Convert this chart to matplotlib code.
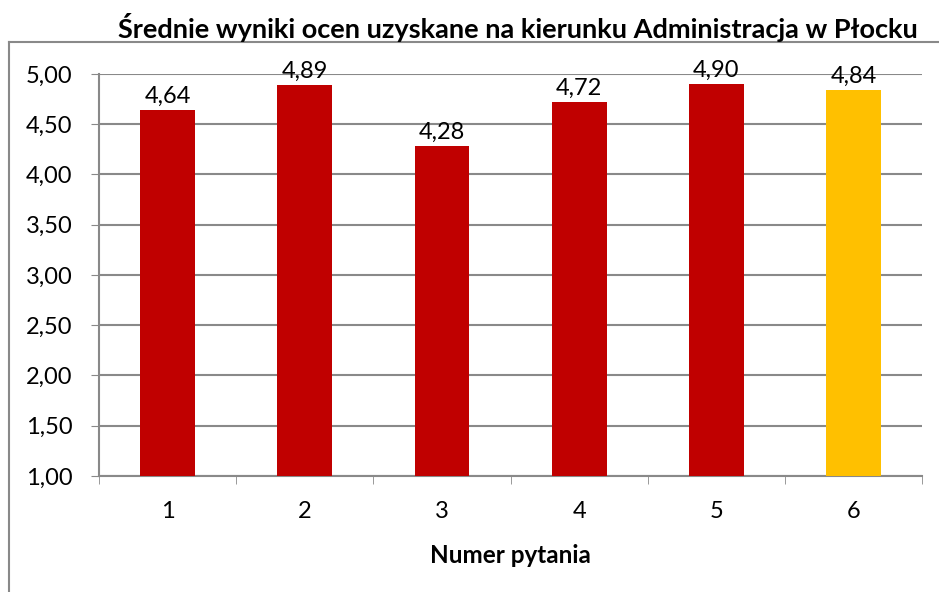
import matplotlib
matplotlib.use('Agg')
import matplotlib.pyplot as plt
from matplotlib.lines import Line2D
from matplotlib.ticker import FuncFormatter, MultipleLocator

plt.rcParams['font.family'] = ['Lato', 'DejaVu Sans']

questions = ['1', '2', '3', '4', '5', '6']
scores = [4.64, 4.89, 4.28, 4.72, 4.90, 4.84]
colors = ['#C00000', '#C00000', '#C00000', '#C00000', '#C00000', '#FFC000']

fig = plt.figure(figsize=(9.39, 5.92), dpi=100)
ax = fig.add_axes([0.1054, 0.196, 0.8766, 0.679])

x = range(len(questions))
ax.bar(x, [s - 1 for s in scores], bottom=1, width=0.4, color=colors, zorder=3)
for i, s in enumerate(scores):
    ax.text(i, s + 0.03, f'{s:.2f}'.replace('.', ','), ha='center', va='bottom', fontsize=17)

ax.set_ylim(1, 5)
ax.set_xlim(-0.5, len(questions) - 0.5)
ax.yaxis.set_major_locator(MultipleLocator(0.5))
ax.yaxis.set_major_formatter(FuncFormatter(lambda v, p: f'{v:.2f}'.replace('.', ',')))
ax.set_xticks(list(x))
ax.set_xticklabels(questions)
ax.tick_params(axis='x', length=0, labelsize=17, pad=18)
ax.tick_params(axis='y', length=6, color='#898989', labelsize=17, pad=13)
ax.set_xticks([i + 0.5 for i in range(-1, len(questions))], minor=True)
ax.tick_params(axis='x', which='minor', length=6, color='#898989')

ax.grid(axis='y', color='#898989', linewidth=1.5, zorder=0)
for s in ['top', 'right']:
    ax.spines[s].set_visible(False)
for s in ['left', 'bottom']:
    ax.spines[s].set_color('#898989')
    ax.spines[s].set_linewidth(1.5)

ax.set_xlabel('Numer pytania', fontsize=17.5, fontweight='bold', labelpad=16)
fig.suptitle('Średnie wyniki ocen uzyskane na kierunku Administracja w Płocku',
             x=0.552, y=0.978, fontsize=19.5, fontweight='bold')

# chart area border (left and top edges visible)
fig.add_artist(Line2D([0.0096, 0.0096], [0, 0.929], color='#898989', lw=1.5))
fig.add_artist(Line2D([0.0096, 1], [0.929, 0.929], color='#898989', lw=1.5))

fig.savefig('out.png', dpi=100)
